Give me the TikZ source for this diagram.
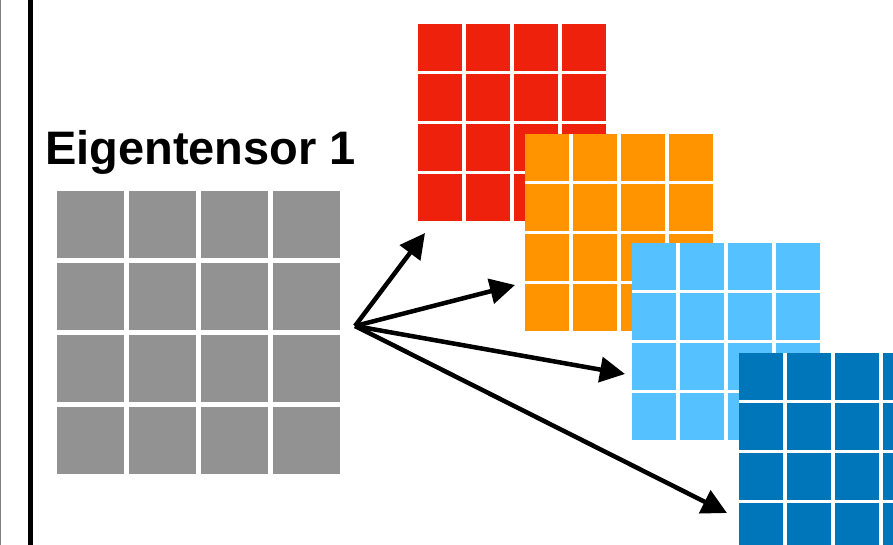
\documentclass[tikz,border=0pt]{standalone}
\usepackage{fontspec}
\setmainfont{Liberation Sans}
\usetikzlibrary{arrows.meta}
\definecolor{kgray}{HTML}{929292}
\definecolor{kred}{HTML}{EE220C}
\definecolor{korange}{HTML}{FF9300}
\definecolor{klblue}{HTML}{56C1FF}
\definecolor{kdblue}{HTML}{0076BA}
\newcommand\smallgrid[3]{%
  \fill[white] (#1,#2) rectangle ++(188,197);
  \foreach \i in {0,...,3}{\foreach \j in {0,...,3}{%
    \fill[#3] ({#1+48*\i},{#2+50*\j}) rectangle ++(44,47);}}}
\tikzset{vecarrow/.style={line width=4.5pt,-{Triangle[length=25pt,width=25pt]}}}
\begin{document}
\begin{tikzpicture}[x=1pt,y=-1pt]
\clip (0,0) rectangle (893,545);
\fill[white] (0,0) rectangle (893,545);
\draw[line width=1pt,gray] (0.5,0) -- (0.5,545);
\draw[line width=5pt,black] (30.5,0) -- (30.5,545);
\node[anchor=base west,inner sep=0pt,font=\fontsize{47}{50}\selectfont\bfseries] (title) at (45,165) {Eigentensor 1};
\foreach \i in {0,...,3}{\foreach \j in {0,...,3}{%
  \fill[kgray] ({57+72*\i},{191+72*\j}) rectangle ++(67,67);}}
\smallgrid{418}{24}{kred}
\smallgrid{525}{134}{korange}
\smallgrid{632}{243}{klblue}
\smallgrid{739}{353}{kdblue}
\coordinate (o) at (355,326);
\coordinate (t1) at (425,233);
\coordinate (t2) at (515,285);
\coordinate (t3) at (625,374);
\coordinate (t4) at (727,513);
\draw[vecarrow] (o) -- (t1);
\draw[vecarrow] (o) -- (t2);
\draw[vecarrow] (o) -- (t3);
\draw[vecarrow] (o) -- (t4);
\end{tikzpicture}
\end{document}
